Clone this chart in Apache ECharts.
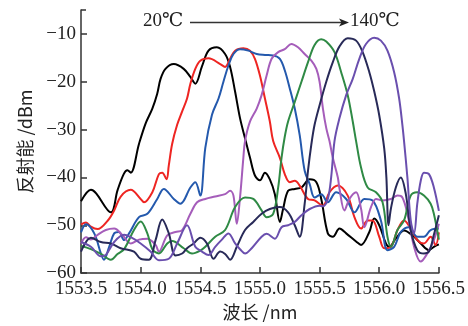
<!DOCTYPE html>
<html><head><meta charset="utf-8">
<script src="https://cdn.jsdelivr.net/npm/echarts@6/dist/echarts.min.js"></script>
<style>html,body{margin:0;padding:0;background:#fff}#c{width:468px;height:326px}</style>
</head><body><div id="c"></div>
<script>
// ---- data: [wavelength (nm), reflected power (dBm)] ----
const xTicks = [1553.5, 1554.0, 1554.5, 1555.0, 1555.5, 1556.0, 1556.5];
const yTicks = [-60, -50, -40, -30, -20, -10];
const seriesNames = ['20℃', '40℃', '60℃', '80℃', '100℃', '120℃', '140℃'];

const s20 = [[1553.500,-45.0],[1553.583,-42.6],[1553.750,-47.3],[1553.806,-42.7],[1553.858,-39.3],[1553.889,-38.5],[1553.917,-39.0],[1553.986,-33.0],[1554.042,-28.7],[1554.098,-25.6],[1554.139,-22.5],[1554.167,-19.4],[1554.208,-17.3],[1554.278,-16.3],[1554.361,-17.3],[1554.417,-19.0],[1554.458,-20.4],[1554.514,-16.8],[1554.569,-13.5],[1554.639,-12.8],[1554.708,-14.2],[1554.750,-16.9],[1554.792,-22.1],[1554.833,-27.6],[1554.875,-31.8],[1554.917,-35.9],[1554.958,-39.6],[1555.000,-40.6],[1555.042,-39.0],[1555.083,-40.4],[1555.125,-43.5],[1555.167,-49.3],[1555.194,-46.6],[1555.236,-42.8],[1555.292,-42.4],[1555.348,-42.1],[1555.417,-40.4],[1555.473,-41.0],[1555.514,-44.5],[1555.569,-51.7],[1555.611,-52.4],[1555.667,-50.7],[1555.723,-51.7],[1555.806,-53.4],[1555.848,-54.1],[1555.917,-51.4],[1555.958,-48.6],[1556.000,-50.0],[1556.056,-53.8],[1556.083,-54.5],[1556.139,-52.8],[1556.208,-51.1],[1556.292,-52.4],[1556.348,-53.8],[1556.417,-55.2],[1556.458,-54.5],[1556.500,-54.0]];

const s40 = [[1553.500,-49.8],[1553.542,-49.4],[1553.583,-50.3],[1553.639,-50.8],[1553.725,-49.0],[1553.778,-46.9],[1553.833,-44.0],[1553.917,-42.6],[1554.000,-44.5],[1554.028,-45.2],[1554.098,-43.1],[1554.153,-39.3],[1554.181,-39.0],[1554.217,-40.4],[1554.236,-37.5],[1554.264,-33.0],[1554.306,-29.0],[1554.348,-26.2],[1554.389,-23.5],[1554.417,-20.4],[1554.458,-17.3],[1554.500,-15.6],[1554.569,-15.1],[1554.667,-16.3],[1554.708,-16.9],[1554.750,-15.2],[1554.792,-13.5],[1554.861,-13.0],[1554.917,-13.5],[1554.958,-15.2],[1555.000,-18.7],[1555.042,-23.5],[1555.083,-28.3],[1555.111,-32.4],[1555.167,-35.9],[1555.208,-39.3],[1555.250,-41.0],[1555.292,-40.7],[1555.333,-41.7],[1555.403,-44.5],[1555.458,-44.8],[1555.528,-45.9],[1555.583,-43.1],[1555.653,-41.7],[1555.736,-43.8],[1555.792,-48.3],[1555.848,-50.7],[1555.903,-49.0],[1555.944,-49.0],[1556.000,-52.4],[1556.042,-54.8],[1556.098,-54.5],[1556.153,-51.0],[1556.208,-49.0],[1556.264,-50.7],[1556.319,-53.1],[1556.375,-53.8],[1556.431,-52.4],[1556.473,-54.1],[1556.500,-51.5]];

const s60 = [[1553.500,-51.5],[1553.542,-49.8],[1553.611,-51.7],[1553.667,-55.9],[1553.692,-57.2],[1553.736,-54.5],[1553.778,-51.7],[1553.819,-51.4],[1553.861,-53.1],[1553.903,-51.7],[1553.986,-48.3],[1554.056,-47.6],[1554.139,-44.5],[1554.194,-42.4],[1554.278,-44.5],[1554.333,-45.5],[1554.417,-42.1],[1554.458,-41.0],[1554.500,-43.8],[1554.542,-33.8],[1554.598,-26.9],[1554.653,-23.5],[1554.694,-20.0],[1554.736,-16.6],[1554.778,-14.2],[1554.833,-13.2],[1554.903,-13.5],[1554.973,-14.2],[1555.042,-14.4],[1555.111,-14.5],[1555.167,-15.2],[1555.208,-17.6],[1555.250,-21.4],[1555.292,-25.6],[1555.333,-31.1],[1555.375,-38.6],[1555.417,-41.4],[1555.458,-44.2],[1555.514,-43.5],[1555.569,-45.2],[1555.639,-43.1],[1555.723,-44.5],[1555.792,-47.3],[1555.875,-44.5],[1555.944,-44.8],[1556.014,-49.0],[1556.069,-55.2],[1556.125,-54.5],[1556.181,-51.4],[1556.250,-50.4],[1556.319,-52.4],[1556.375,-52.4],[1556.431,-51.0],[1556.500,-50.7]];

const s80 = [[1553.500,-53.8],[1553.542,-52.5],[1553.583,-53.0],[1553.639,-52.0],[1553.708,-51.0],[1553.778,-50.7],[1553.848,-52.1],[1553.917,-53.8],[1553.986,-53.0],[1554.056,-52.8],[1554.125,-54.1],[1554.153,-55.5],[1554.223,-52.1],[1554.292,-51.4],[1554.348,-51.0],[1554.417,-47.6],[1554.473,-45.2],[1554.542,-44.5],[1554.625,-44.0],[1554.708,-43.5],[1554.750,-42.8],[1554.778,-43.8],[1554.806,-49.7],[1554.833,-44.2],[1554.861,-35.9],[1554.875,-32.4],[1554.917,-28.3],[1554.973,-25.6],[1555.014,-22.8],[1555.056,-18.7],[1555.098,-15.2],[1555.153,-13.8],[1555.208,-13.2],[1555.264,-12.1],[1555.319,-12.8],[1555.375,-14.2],[1555.431,-15.6],[1555.473,-17.3],[1555.500,-20.0],[1555.528,-25.6],[1555.556,-29.7],[1555.583,-32.4],[1555.611,-35.9],[1555.653,-40.0],[1555.667,-42.4],[1555.708,-46.9],[1555.750,-44.5],[1555.806,-43.1],[1555.848,-46.6],[1555.875,-50.4],[1555.931,-46.2],[1555.973,-44.5],[1556.028,-44.8],[1556.098,-44.5],[1556.153,-43.8],[1556.194,-44.2],[1556.236,-47.6],[1556.292,-54.5],[1556.348,-57.6],[1556.403,-55.9],[1556.458,-53.1],[1556.500,-49.7]];

const s100 = [[1553.500,-54.3],[1553.583,-55.0],[1553.667,-56.0],[1553.750,-57.2],[1553.806,-56.0],[1553.861,-55.0],[1553.944,-51.0],[1554.000,-49.2],[1554.056,-51.7],[1554.098,-55.0],[1554.153,-55.9],[1554.223,-53.8],[1554.264,-53.3],[1554.361,-54.8],[1554.431,-55.9],[1554.500,-55.3],[1554.542,-54.5],[1554.625,-52.4],[1554.708,-51.0],[1554.792,-46.2],[1554.875,-44.2],[1554.944,-44.5],[1555.014,-46.9],[1555.056,-48.3],[1555.111,-47.6],[1555.153,-42.1],[1555.181,-35.9],[1555.208,-31.5],[1555.236,-28.3],[1555.292,-24.2],[1555.348,-20.0],[1555.403,-15.9],[1555.458,-12.3],[1555.514,-11.1],[1555.556,-11.6],[1555.625,-13.8],[1555.681,-18.0],[1555.736,-22.8],[1555.778,-28.3],[1555.806,-32.4],[1555.848,-38.0],[1555.903,-42.1],[1555.973,-43.1],[1556.028,-45.2],[1556.069,-52.4],[1556.098,-54.5],[1556.153,-51.0],[1556.208,-49.0],[1556.264,-43.8],[1556.319,-43.1],[1556.375,-43.8],[1556.431,-45.5],[1556.458,-47.6],[1556.500,-53.0]];

const s120 = [[1553.500,-55.5],[1553.583,-52.6],[1553.667,-53.5],[1553.750,-53.8],[1553.833,-54.8],[1553.944,-55.5],[1554.000,-57.0],[1554.069,-57.2],[1554.125,-53.1],[1554.181,-48.8],[1554.236,-51.7],[1554.292,-56.3],[1554.348,-55.9],[1554.389,-54.8],[1554.444,-53.8],[1554.500,-52.6],[1554.556,-53.8],[1554.611,-57.0],[1554.667,-55.5],[1554.708,-56.0],[1554.750,-57.2],[1554.806,-54.5],[1554.875,-51.0],[1554.944,-49.3],[1555.014,-47.6],[1555.083,-46.6],[1555.167,-46.2],[1555.236,-47.3],[1555.292,-50.0],[1555.333,-52.4],[1555.375,-45.5],[1555.403,-38.6],[1555.431,-33.1],[1555.458,-29.0],[1555.500,-24.9],[1555.556,-20.0],[1555.611,-15.9],[1555.667,-12.6],[1555.736,-10.9],[1555.806,-11.4],[1555.861,-13.8],[1555.917,-18.0],[1555.958,-22.0],[1556.000,-27.0],[1556.042,-34.0],[1556.060,-40.0],[1556.078,-50.0],[1556.098,-46.5],[1556.139,-42.1],[1556.181,-40.0],[1556.223,-43.5],[1556.264,-51.0],[1556.319,-55.2],[1556.375,-55.9],[1556.417,-55.5],[1556.458,-52.0],[1556.500,-47.9]];

const s140 = [[1553.500,-53.5],[1553.583,-54.5],[1553.667,-56.5],[1553.708,-56.2],[1553.778,-53.5],[1553.861,-52.0],[1553.917,-52.5],[1554.000,-53.8],[1554.083,-55.5],[1554.153,-57.3],[1554.236,-57.0],[1554.306,-53.8],[1554.389,-50.0],[1554.458,-54.5],[1554.514,-55.5],[1554.569,-56.2],[1554.625,-54.5],[1554.681,-53.0],[1554.736,-51.7],[1554.792,-53.8],[1554.833,-55.0],[1554.875,-55.9],[1554.931,-54.8],[1555.014,-52.4],[1555.056,-51.8],[1555.125,-52.8],[1555.181,-50.4],[1555.236,-50.0],[1555.292,-49.3],[1555.348,-47.9],[1555.417,-46.6],[1555.500,-45.9],[1555.528,-46.0],[1555.569,-44.5],[1555.597,-40.0],[1555.625,-32.4],[1555.667,-27.6],[1555.723,-22.8],[1555.778,-19.4],[1555.833,-15.2],[1555.889,-12.1],[1555.958,-10.8],[1556.014,-11.4],[1556.069,-13.5],[1556.125,-18.0],[1556.167,-23.5],[1556.194,-29.0],[1556.208,-32.4],[1556.236,-40.0],[1556.264,-49.0],[1556.292,-51.7],[1556.319,-45.5],[1556.348,-40.7],[1556.375,-39.0],[1556.417,-39.3],[1556.458,-42.1],[1556.500,-47.0]];

const seriesData = [s20, s40, s60, s80, s100, s120, s140];
const colors = ['#000000', '#ee2522', '#2459ad', '#a55dba', '#2f8a45', '#282a58', '#6a4fae'];
const annoLeft = '20℃';
const annoRight = '140℃';

// ---- chart ----
const SERIF = '"Liberation Serif", "DejaVu Serif", serif';
const CJK = '"Noto Sans CJK SC", "Liberation Serif", serif';
const chart = echarts.init(document.getElementById('c'), null, {renderer: 'canvas'});
const axisCol = '#333';
chart.setOption({
  animation: false,
  backgroundColor: '#fff',
  grid: {left: 81, right: 27, top: 10, bottom: 49, containLabel: false},
  xAxis: {
    type: 'value', min: xTicks[0], max: xTicks[xTicks.length - 1], interval: 0.5,
    name: '波长 /nm', nameLocation: 'middle', nameGap: 28,
    nameTextStyle: {fontFamily: CJK, fontSize: 18, color: '#222'},
    axisLine: {lineStyle: {color: axisCol, width: 1.5}},
    axisTick: {inside: true, length: 6, lineStyle: {color: axisCol, width: 1.5}},
    axisLabel: {margin: 6, fontFamily: SERIF, fontSize: 19, color: '#222', formatter: v => v.toFixed(1)},
    splitLine: {show: false}
  },
  yAxis: [{
    type: 'value', min: yTicks[0], max: -5, interval: 10,
    name: '反射能 /dBm', nameLocation: 'middle', nameGap: 47,
    nameTextStyle: {fontFamily: CJK, fontSize: 18, color: '#222'},
    axisLine: {lineStyle: {color: axisCol, width: 1.5}},
    axisTick: {inside: true, length: 6, lineStyle: {color: axisCol, width: 1.5}},
    axisLabel: {margin: 5, showMaxLabel: false, fontFamily: SERIF, fontSize: 19, color: '#222', formatter: v => v < 0 ? '\u2212' + Math.abs(v) : String(v)},
    splitLine: {show: false}
  }, {
    type: 'value', min: yTicks[0], max: -5, interval: 55, position: 'left',
    axisLine: {show: false},
    axisTick: {show: true, inside: true, length: 5, lineStyle: {color: axisCol, width: 1.5}},
    axisLabel: {show: false}, splitLine: {show: false}
  }],
  series: seriesData.map((d, i) => ({
    name: seriesNames[i], type: 'line', data: d, smooth: 0.35, symbol: 'none',
    lineStyle: {color: colors[i], width: 2}, z: 2 + i
  })),
  graphic: [
    {type: 'text', left: 143, top: 12, style: {text: annoLeft, font: '19px ' + SERIF, fill: '#222'}},
    {type: 'line', shape: {x1: 190, y1: 22.5, x2: 344, y2: 22.5}, style: {stroke: '#333', lineWidth: 1.3}},
    {type: 'polygon', shape: {points: [[349, 22.5], [339, 18.5], [341.5, 22.5], [339, 26.5]]}, style: {fill: '#222'}},
    {type: 'text', left: 350, top: 12, style: {text: annoRight, font: '19px ' + SERIF, fill: '#222'}}
  ]
});
</script>
</body></html>
